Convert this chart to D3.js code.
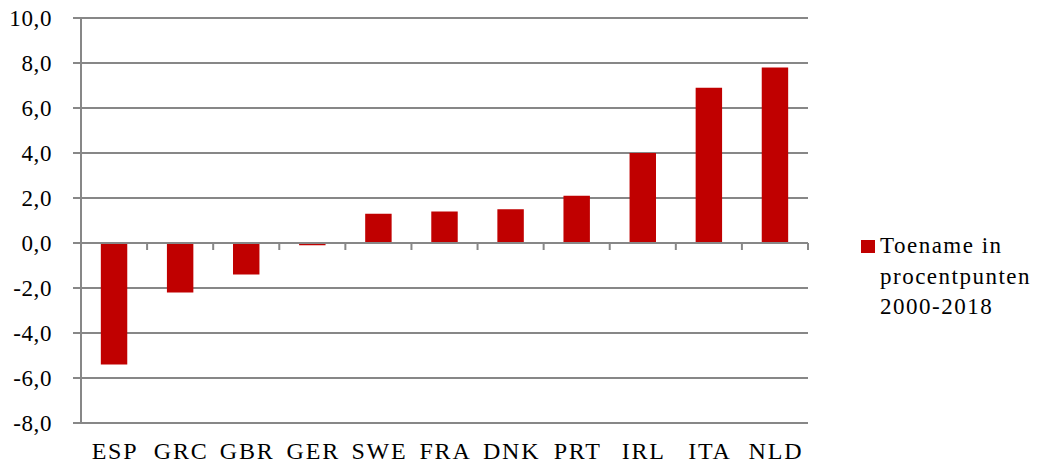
<!DOCTYPE html>
<html><head><meta charset="utf-8">
<script src="https://cdn.jsdelivr.net/npm/d3@7"></script>
<style>body{margin:0;background:#fff}svg{display:block}</style>
</head><body>
<svg id="c" width="1037" height="465"></svg>
<script>
const categories = ["ESP","GRC","GBR","GER","SWE","FRA","DNK","PRT","IRL","ITA","NLD"];
const values = [-5.4,-2.2,-1.4,-0.1,1.3,1.4,1.5,2.1,4.0,6.9,7.8];
const yTicks = [-8,-6,-4,-2,0,2,4,6,8,10];
const seriesName = ["Toename in","procentpunten","2000-2018"];

const svg = d3.select("#c");
const font = "Liberation Serif, Times New Roman, serif";
const L = 81, R = 808, T = 18, B = 423;
const x = d3.scaleBand().domain(categories).range([L, R]).paddingInner(0).paddingOuter(0);
const y = d3.scaleLinear().domain([-8, 10]).range([B, T]);
const grid = "#878787";
const fmt = d => d3.format(".1f")(d).replace(".", ",").replace("−","-");

// gridlines
svg.append("g").selectAll("line").data(yTicks).join("line")
  .attr("x1", L - 8).attr("x2", R).attr("y1", d => y(d)).attr("y2", d => y(d))
  .attr("stroke", grid).attr("stroke-width", 2);
// y axis line
svg.append("line").attr("x1", L).attr("x2", L).attr("y1", T).attr("y2", B)
  .attr("stroke", grid).attr("stroke-width", 2);
// y labels
svg.append("g").selectAll("text").data(yTicks).join("text")
  .attr("x", 52).attr("y", d => y(d)).attr("dy", "0.35em")
  .attr("text-anchor", "end").attr("font-family", font).attr("font-size", 23)
  .attr("letter-spacing", 0.6)
  .attr("fill", "#000").text(d => fmt(d));

// bars
const bw = x.bandwidth() * 0.4;
svg.append("g").selectAll("rect").data(values).join("rect")
  .attr("x", (d, i) => x(categories[i]) + (x.bandwidth() - bw) / 2)
  .attr("width", bw)
  .attr("y", d => y(Math.max(0, d)))
  .attr("height", d => Math.abs(y(d) - y(0)))
  .attr("fill", "#C00000");

// x tick marks on zero line
const bounds = categories.map(c => x(c)).concat([R]);
svg.append("g").selectAll("line").data(bounds.slice(1)).join("line")
  .attr("x1", d => d).attr("x2", d => d).attr("y1", y(0)).attr("y2", y(0) + 7)
  .attr("stroke", grid).attr("stroke-width", 2);
svg.append("line").attr("x1", L).attr("x2", R).attr("y1", y(0)).attr("y2", y(0))
  .attr("stroke", grid).attr("stroke-width", 2);

// x labels
svg.append("g").selectAll("text").data(categories).join("text")
  .attr("x", d => x(d) + x.bandwidth() / 2 + 1).attr("y", 459)
  .attr("text-anchor", "middle").attr("font-family", font).attr("font-size", 24)
  .attr("letter-spacing", 1.8)
  .attr("fill", "#000").text(d => d);

// legend
svg.append("rect").attr("x", 861).attr("y", 240).attr("width", 14).attr("height", 13).attr("fill", "#C00000");
svg.append("g").selectAll("text").data(seriesName).join("text")
  .attr("x", 880).attr("y", (d, i) => 253 + i * 30.5)
  .attr("font-family", font).attr("font-size", 23).attr("letter-spacing", 1.5)
  .attr("fill", "#000").text(d => d);
</script>
</body></html>
